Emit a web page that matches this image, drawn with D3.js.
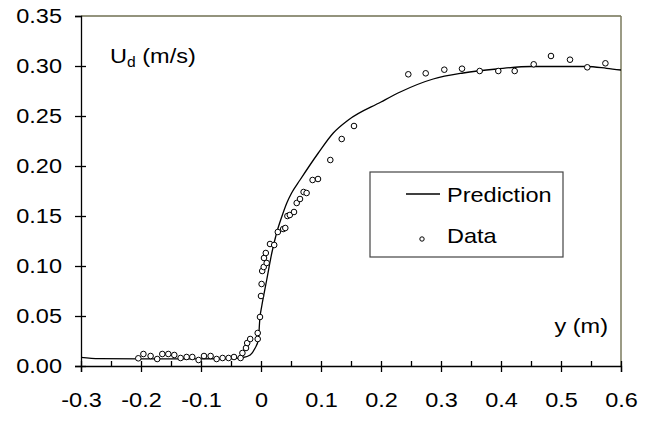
<!DOCTYPE html>
<html>
<head>
<meta charset="utf-8">
<script src="https://cdn.jsdelivr.net/npm/d3@7"></script>
<style>
  body { margin: 0; background: #fff; }
  text { font-family: "Liberation Sans", Arial, sans-serif; fill: #000; }
</style>
</head>
<body>
<svg id="chart" width="654" height="421"></svg>
<script>
// tick values and labels
const xTicks = [-0.3, -0.2, -0.1, 0, 0.1, 0.2, 0.3, 0.4, 0.5, 0.6];
const xTickLabels = ['-0.3', '-0.2', '-0.1', '0', '0.1', '0.2', '0.3', '0.4', '0.5', '0.6'];
const xMinorTicks = [-0.3, -0.25, -0.2, -0.15, -0.1, -0.05, 0, 0.05, 0.1, 0.15, 0.2, 0.25, 0.3, 0.35, 0.4, 0.45, 0.5, 0.55, 0.6];
const yTicks = [0, 0.05, 0.1, 0.15, 0.2, 0.25, 0.3, 0.35];
const yTickLabels = ['0.00', '0.05', '0.10', '0.15', '0.20', '0.25', '0.30', '0.35'];

// Prediction (y, Ud)
const predY  = [-0.3, -0.27, -0.2, -0.1, -0.05, -0.03, -0.018, -0.01, -0.0045, -0.0017, 0.001, 0.004, 0.0095,
                0.018, 0.026, 0.0345, 0.043, 0.051, 0.065, 0.0955, 0.1205, 0.1455, 0.2, 0.232, 0.287,
                0.337, 0.393, 0.45, 0.543, 0.576, 0.6];
const predUd = [0.0087, 0.0073, 0.0072, 0.0072, 0.0075, 0.0085, 0.011, 0.0177, 0.026, 0.049, 0.059, 0.069, 0.086,
                0.113, 0.133, 0.149, 0.163, 0.173, 0.186, 0.213, 0.233, 0.246, 0.264, 0.274, 0.287,
                0.293, 0.297, 0.2995, 0.2995, 0.2977, 0.296];

// Data (y, Ud)
const dataY  = [-0.2045, -0.196, -0.184, -0.173, -0.1645, -0.1545, -0.1445, -0.134, -0.124, -0.1145, -0.104, -0.095,
                -0.084, -0.074, -0.064, -0.054, -0.045, -0.034, -0.031, -0.025, -0.023, -0.018, -0.0055, -0.0055,
                -0.0017, 0.0, 0.001, 0.002, 0.0045, 0.0095, 0.005, 0.008, 0.015, 0.022, 0.028, 0.037, 0.0405,
                0.044, 0.048, 0.055, 0.0595, 0.065, 0.071, 0.076, 0.086, 0.095, 0.1155, 0.1345, 0.155,
                0.2455, 0.2745, 0.3055, 0.335, 0.3645, 0.3955, 0.4228, 0.4545, 0.4833, 0.515, 0.5438, 0.574];
const dataUd = [0.0077, 0.012, 0.010, 0.007, 0.012, 0.012, 0.011, 0.008, 0.009, 0.009, 0.006, 0.010,
                0.010, 0.007, 0.008, 0.008, 0.009, 0.008, 0.013, 0.018, 0.023, 0.027, 0.033, 0.027,
                0.049, 0.070, 0.082, 0.095, 0.099, 0.103, 0.108, 0.113, 0.122, 0.121, 0.134, 0.137, 0.138,
                0.150, 0.151, 0.154, 0.163, 0.167, 0.174, 0.173, 0.186, 0.187, 0.206, 0.227, 0.240,
                0.2917, 0.2927, 0.2963, 0.2973, 0.295, 0.295, 0.295, 0.3017, 0.310, 0.3063, 0.2987, 0.3027];

const svg = d3.select('#chart');

let x = d3.scaleLinear().domain([-0.3, 0.6]).range([81, 621]);
let y = d3.scaleLinear().domain([0, 0.35]).range([366, 16]);

const fontSize = 21;
const stretch = 1.12;   // text in the original is a bit wide

// frame: top and right in olive grey
svg.append('line')
    .attr('x1', x(-0.3)).attr('x2', x(0.6))
    .attr('y1', y(0.35)).attr('y2', y(0.35))
    .attr('stroke', '#6f6f52').attr('stroke-width', 1.5);
svg.append('line')
    .attr('x1', x(0.6)).attr('x2', x(0.6))
    .attr('y1', y(0.35)).attr('y2', y(0))
    .attr('stroke', '#7a7a5c').attr('stroke-width', 1.5);

// y axis (ticks crossing)
svg.append('g')
    .attr('transform', `translate(${x(-0.3)},0)`)
    .call(d3.axisLeft(y).tickValues(yTicks).tickSize(6).tickPadding(11)
        .tickFormat((d, i) => yTickLabels[i]));
svg.append('g')
    .attr('transform', `translate(${x(-0.3)},0)`)
    .call(d3.axisRight(y).tickValues(yTicks.slice(0, -1)).tickSize(5).tickFormat(''))
    .call(g => g.select('.domain').remove());

// x axis: majors cross, minors above
svg.append('g')
    .attr('transform', `translate(0,${y(0)})`)
    .call(d3.axisBottom(x).tickValues(xTicks).tickSize(6).tickPadding(20)
        .tickFormat((d, i) => xTickLabels[i]));
svg.append('g')
    .attr('transform', `translate(0,${y(0)})`)
    .call(d3.axisTop(x).tickValues(xMinorTicks).tickSize(5).tickFormat(''))
    .call(g => g.select('.domain').remove());

svg.selectAll('.domain, .tick line')
    .attr('stroke', '#000').attr('stroke-width', 1.3);
svg.selectAll('.tick text')
    .style('font-size', fontSize + 'px')
    .attr('fill', '#000')
    .attr('transform', `scale(${stretch},1)`);

// prediction line
let line = d3.line()
    .x((d, i) => x(predY[i]))
    .y((d, i) => y(predUd[i]))
    .curve(d3.curveMonotoneX);

svg.append('path')
    .attr('d', line(predY))
    .attr('fill', 'none')
    .attr('stroke', '#000')
    .attr('stroke-width', 1.3);

// data points
svg.append('g')
    .selectAll('circle')
    .data(dataY)
    .join('circle')
    .attr('cx', d => x(d))
    .attr('cy', (d, i) => y(dataUd[i]))
    .attr('r', 2.8)
    .attr('fill', '#fff')
    .attr('stroke', '#000')
    .attr('stroke-width', 1);

// wide text helper
function label(parent, px, py) {
    return parent.append('text')
        .attr('transform', `translate(${px},${py}) scale(${stretch},1)`)
        .style('font-size', fontSize + 'px');
}

// axis titles
let ud = label(svg, 110, 63);
ud.append('tspan').text('U');
ud.append('tspan').attr('dy', 4).style('font-size', '14px').text('d');
ud.append('tspan').attr('dy', -4).text(' (m/s)');

label(svg, 608, 333)
    .attr('text-anchor', 'end')
    .text('y (m)');

// legend
let legend = svg.append('g');
legend.append('rect')
    .attr('x', 370).attr('y', 172)
    .attr('width', 193).attr('height', 85)
    .attr('fill', '#fff')
    .attr('stroke', '#444')
    .attr('stroke-width', 1.2);
legend.append('line')
    .attr('x1', 406).attr('x2', 440)
    .attr('y1', 194).attr('y2', 194)
    .attr('stroke', '#000').attr('stroke-width', 1.3);
label(legend, 447, 202).text('Prediction');
legend.append('circle')
    .attr('cx', 422).attr('cy', 239)
    .attr('r', 2.2)
    .attr('fill', '#fff').attr('stroke', '#000').attr('stroke-width', 1);
label(legend, 447, 243).text('Data');
</script>
</body>
</html>
